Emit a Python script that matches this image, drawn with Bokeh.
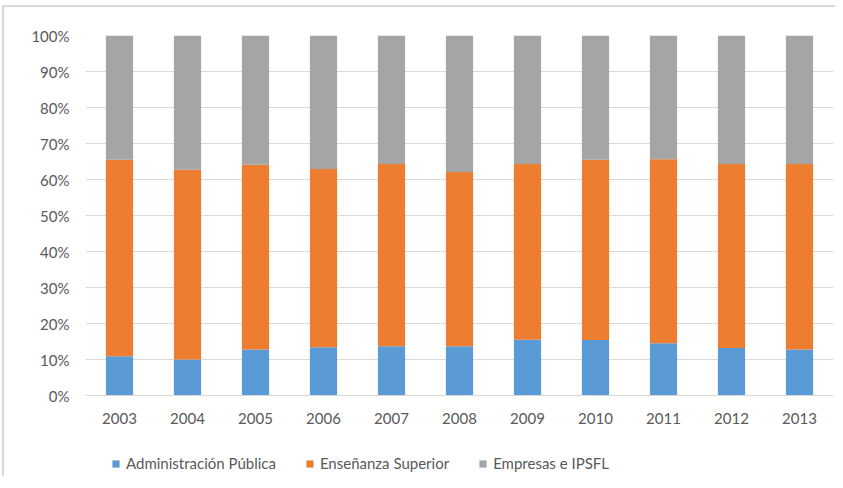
from bokeh.plotting import figure
from bokeh.models import (ColumnDataSource, FactorRange, Range1d, FixedTicker, NumeralTickFormatter,
                          Legend, LegendItem)
from bokeh.layouts import column
from bokeh.embed import file_html
from bokeh.resources import INLINE

years = ["2003", "2004", "2005", "2006", "2007", "2008", "2009", "2010", "2011", "2012", "2013"]
admin = [0.109, 0.100, 0.128, 0.134, 0.137, 0.137, 0.155, 0.154, 0.145, 0.132, 0.128]
ensen = [0.546, 0.527, 0.513, 0.495, 0.506, 0.484, 0.488, 0.501, 0.511, 0.511, 0.515]
empre = [0.345, 0.373, 0.359, 0.371, 0.357, 0.379, 0.357, 0.345, 0.344, 0.357, 0.357]
series_names = ["Administración Pública", "Enseñanza Superior", "Empresas e IPSFL"]
colors = ["#5b9bd5", "#ed7d31", "#a5a5a5"]
y_ticks = [0, 0.1, 0.2, 0.3, 0.4, 0.5, 0.6, 0.7, 0.8, 0.9, 1.0]

src = ColumnDataSource(dict(year=years, admin=admin, ensen=ensen, empre=empre))
stack_cols = ["admin", "ensen", "empre"]

FONT = "Lato"
TXT = "#595959"
EDGE = "#d9d9d9"

x_range = FactorRange(*years)
p = figure(x_range=x_range, y_range=Range1d(0, 1),
           width=831, height=431, output_backend="svg", toolbar_location=None,
           min_border_left=81, min_border_right=2, min_border_top=28, min_border_bottom=43)
p.outline_line_color = None
p.background_fill_color = "white"
p.border_fill_color = "white"

p.vbar_stack(stack_cols, x="year", width=0.4, color=colors, line_color=None, source=src)

p.xgrid.grid_line_color = None
p.ygrid.grid_line_color = EDGE
p.ygrid.grid_line_width = 1
p.yaxis.ticker = FixedTicker(ticks=y_ticks)
p.yaxis.formatter = NumeralTickFormatter(format="0%")
p.yaxis.axis_line_color = None
p.yaxis.major_tick_line_color = None
p.yaxis.minor_tick_line_color = None
p.yaxis.major_tick_out = 0
p.yaxis.major_label_standoff = 16
p.xaxis.axis_line_color = EDGE
p.xaxis.major_tick_line_color = None
p.xaxis.minor_tick_line_color = None
p.xaxis.major_tick_out = 0
p.xaxis.major_label_standoff = 17
for ax in (p.xaxis[0], p.yaxis[0]):
    ax.major_label_text_font = FONT
    ax.major_label_text_font_size = "15px"
    ax.major_label_text_color = TXT

# legend strip: same series drawn out of view, legend inside its frame
lf = figure(x_range=x_range, y_range=Range1d(5, 6), width=831, height=38,
            output_backend="svg", toolbar_location=None,
            x_axis_location=None, y_axis_location=None, min_border=0)
lf.outline_line_color = None
lf.xgrid.grid_line_color = None
lf.ygrid.grid_line_color = None
lrs = lf.vbar_stack(stack_cols, x="year", width=0.4, color=colors, line_color=None, source=src)

legend = Legend(items=[LegendItem(label=n, renderers=[r]) for n, r in zip(series_names, lrs)],
                location=(26, 4), orientation="horizontal")
legend.label_text_font = FONT
legend.label_text_font_size = "15px"
legend.label_text_color = TXT
legend.glyph_width = 9
legend.glyph_height = 9
legend.label_standoff = 6
legend.spacing = 29
legend.padding = 0
legend.margin = 0
legend.border_line_color = None
legend.background_fill_alpha = 0
lf.add_layout(legend, "center")

layout = column(p, lf, spacing=0,
                styles={"border-top": f"2px solid {EDGE}", "border-left": f"2px solid {EDGE}",
                        "margin-top": "5px", "margin-left": "2px"})

open("out.html", "w").write(file_html(layout, INLINE))
